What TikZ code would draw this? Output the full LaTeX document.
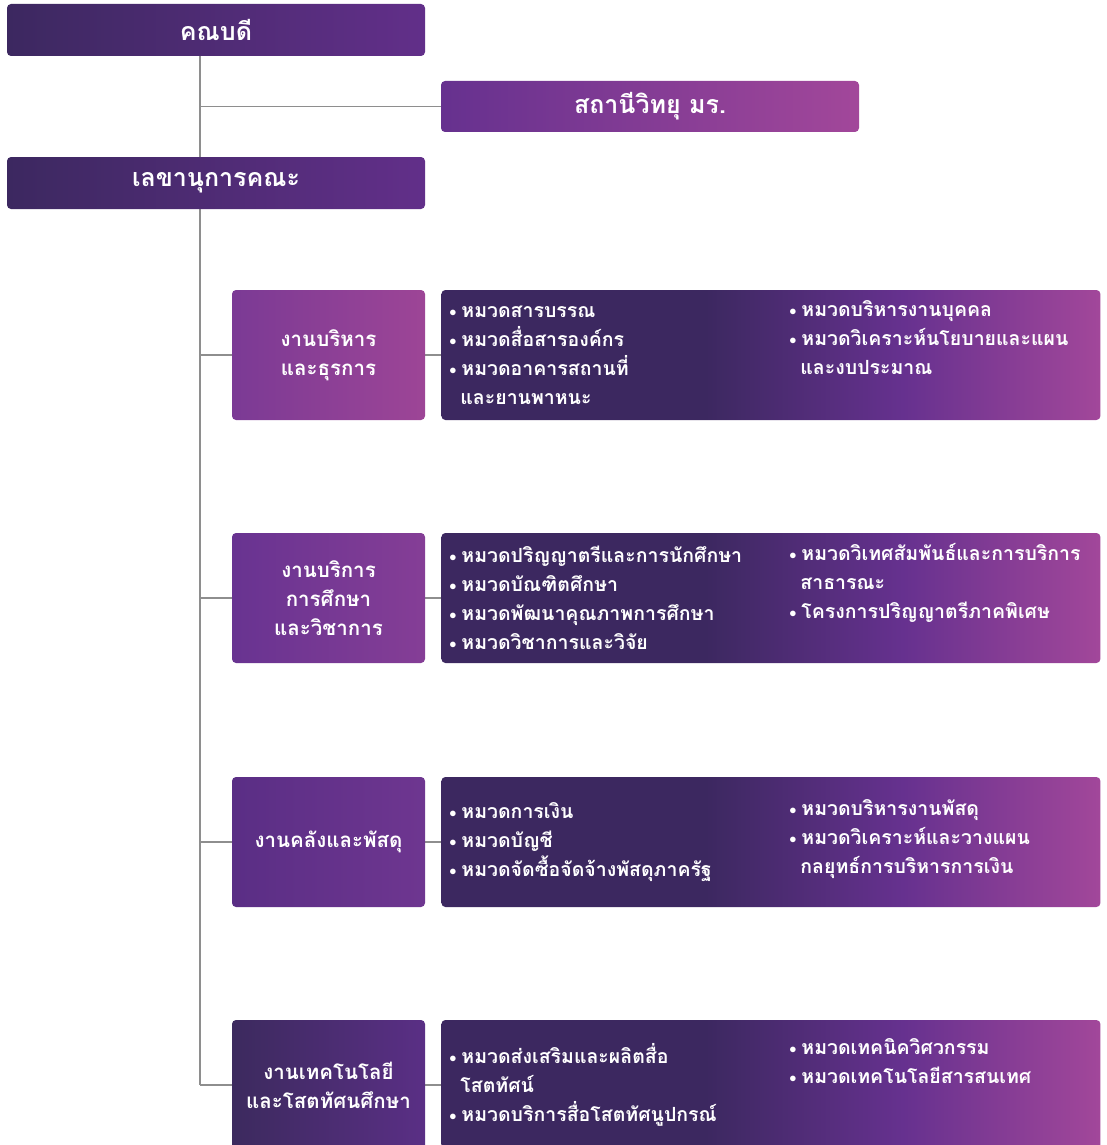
\documentclass[tikz,border=0pt]{standalone}
\usepackage{fontspec}
\newfontfamily\thaifont[Script=Thai]{Loma}
\usetikzlibrary{positioning,backgrounds}

\definecolor{dkpurple}{HTML}{3C2860}
\definecolor{mdpurple}{HTML}{66318F}
\definecolor{pkpurple}{HTML}{A2479A}
\definecolor{linegray}{HTML}{8E8E8E}
\definecolor{admleft}{HTML}{7B3A95}
\definecolor{admright}{HTML}{9D4596}
\definecolor{acadleft}{HTML}{683391}
\definecolor{acadright}{HTML}{853E96}
\definecolor{finleft}{HTML}{5A2E85}
\definecolor{finright}{HTML}{6E3690}
\definecolor{techleft}{HTML}{3C2A5E}
\definecolor{techright}{HTML}{5A2F85}

\pgfdeclarehorizontalshading{itemshade}{100bp}{color(0bp)=(dkpurple); color(25bp)=(dkpurple); color(45bp)=(dkpurple); color(60bp)=(mdpurple); color(75bp)=(pkpurple); color(100bp)=(pkpurple)}

\newcommand\bul{\makebox[12pt][l]{\raisebox{1pt}{$\scriptstyle\bullet$}}}
\newcommand\cont{\hspace*{11pt}}

\tikzset{
  box/.style={rounded corners=4pt, inner sep=0pt, text=white, align=center,
    font=\thaifont\bfseries\fontsize{20.5}{29}\selectfont},
  headbox/.style={box, minimum width=418pt, minimum height=52pt,
    font=\thaifont\bfseries\fontsize{25}{30}\selectfont,
    left color=dkpurple, right color=mdpurple!96!black},
  radiobox/.style={headbox, minimum height=51pt,
    left color=mdpurple, right color=pkpurple},
  unitbox/.style={box, minimum width=193pt, minimum height=130pt},
  listbox/.style={rounded corners=4pt, minimum width=659pt, minimum height=130pt,
    inner sep=0pt, shading=itemshade},
  items/.style={inner sep=0pt, text=white, align=left,
    font=\thaifont\bfseries\fontsize{19.5}{29}\selectfont},
  conn/.style={draw=linegray, line width=1.3pt}
}

\begin{document}
\begin{tikzpicture}[x=1pt,y=-1pt]
\useasboundingbox (0,0) rectangle (1106,1145);

% top
\node[headbox] (dean) at (216,30) {คณบดี};
\node[radiobox] (radio) at (650,106.5) {สถานีวิทยุ มร.};
\node[headbox] (secretary) at (216,183) {เลขานุการคณะ};

% units
\node[unitbox, left color=admleft, right color=admright] (adm) at (328.5,355) {งานบริหาร\\และธุรการ};
\node[listbox, right=16pt of adm] (adm-r) {};
\node[unitbox, left color=acadleft, right color=acadright] (acad) at (328.5,598) {งานบริการ\\การศึกษา\\และวิชาการ};
\node[listbox, right=16pt of acad] (acad-r) {};
\node[unitbox, left color=finleft, right color=finright] (fin) at (328.5,842) {งานคลังและพัสดุ};
\node[listbox, right=16pt of fin] (fin-r) {};
\node[unitbox, left color=techleft, right color=techright] (tech) at (328.5,1085) {งานเทคโนโลยี\\และโสตทัศนศึกษา};
\node[listbox, right=16pt of tech] (tech-r) {};

% lists
\node[items, anchor=west] (adm-a) at ([xshift=8pt]adm-r.west)
  {\bul หมวดสารบรรณ\\\bul หมวดสื่อสารองค์กร\\\bul หมวดอาคารสถานที่\\\cont และยานพาหนะ};
\node[items, anchor=north west] (adm-b) at ([xshift=340pt,yshift=5pt]adm-a.north west)
  {\bul หมวดบริหารงานบุคคล\\\bul หมวดวิเคราะห์นโยบายและแผน\\\cont และงบประมาณ};
\node[items, anchor=west] (acad-a) at ([xshift=8pt]acad-r.west)
  {\bul หมวดปริญญาตรีและการนักศึกษา\\\bul หมวดบัณฑิตศึกษา\\\bul หมวดพัฒนาคุณภาพการศึกษา\\\bul หมวดวิชาการและวิจัย};
\node[items, anchor=north west] (acad-b) at ([xshift=340pt,yshift=3pt]acad-a.north west)
  {\bul หมวดวิเทศสัมพันธ์และการบริการ\\\cont สาธารณะ\\\bul โครงการปริญญาตรีภาคพิเศษ};
\node[items, anchor=west] (fin-a) at ([xshift=8pt]fin-r.west)
  {\bul หมวดการเงิน\\\bul หมวดบัญชี\\\bul หมวดจัดซื้อจัดจ้างพัสดุภาครัฐ};
\node[items, anchor=north west] (fin-b) at ([xshift=340pt,yshift=3pt]fin-a.north west)
  {\bul หมวดบริหารงานพัสดุ\\\bul หมวดวิเคราะห์และวางแผน\\\cont กลยุทธ์การบริหารการเงิน};
\node[items, anchor=west] (tech-a) at ([xshift=8pt]tech-r.west)
  {\bul หมวดส่งเสริมและผลิตสื่อ\\\cont โสตทัศน์\\\bul หมวดบริการสื่อโสตทัศนูปกรณ์};
\node[items, anchor=north west] (tech-b) at ([xshift=340pt,yshift=5pt]tech-a.north west)
  {\bul หมวดเทคนิควิศวกรรม\\\bul หมวดเทคโนโลยีสารสนเทศ};

% connectors
\begin{scope}[on background layer]
\draw[conn] ([xshift=-16pt]dean.south) coordinate (trunk) -- (trunk |- tech.west);
\draw[conn] (trunk |- radio.west) -- (radio.west);
\foreach \u in {adm,acad,fin,tech} {
  \draw[conn] (trunk |- \u.west) -- (\u.west);
  \draw[conn] (\u.east) -- (\u-r.west);
}
\end{scope}
\end{tikzpicture}
\end{document}
